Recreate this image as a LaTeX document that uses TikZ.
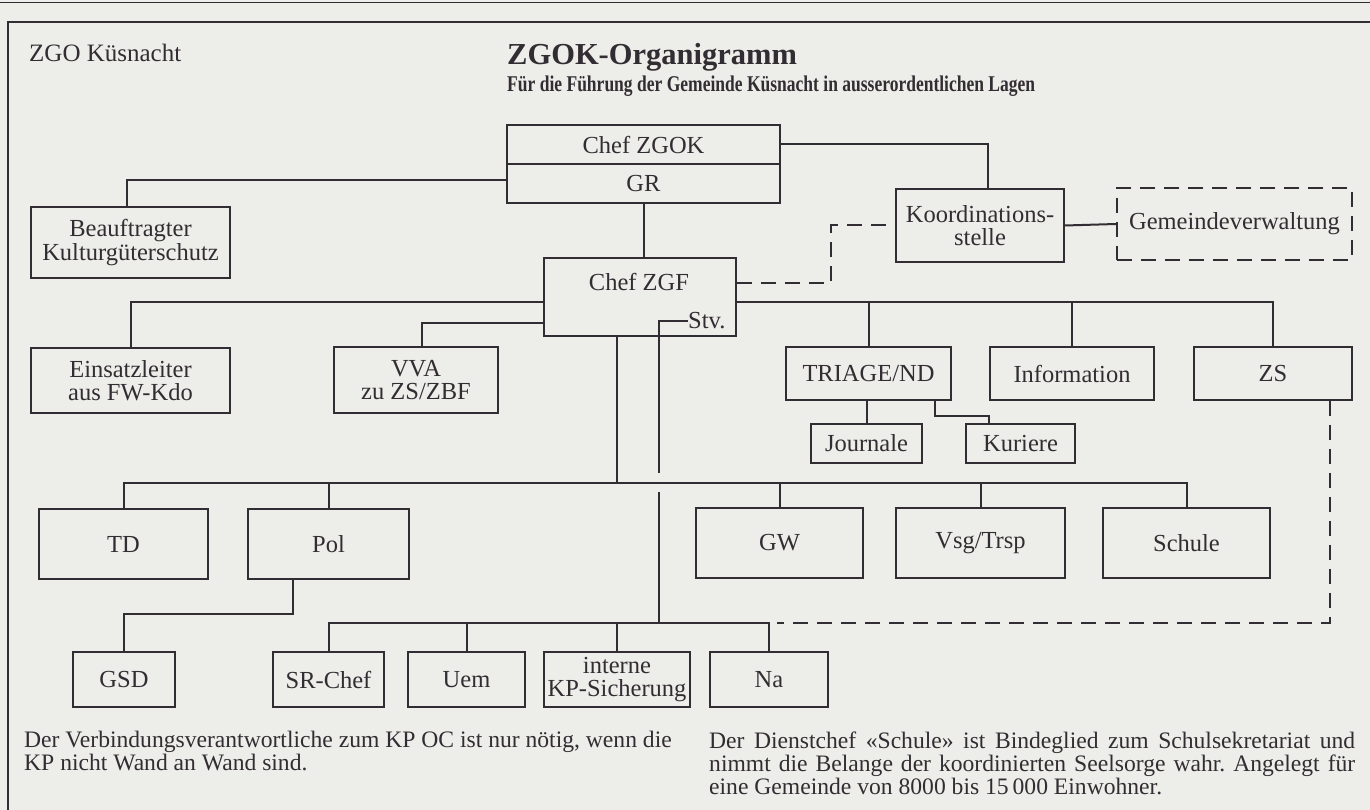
\documentclass[tikz,border=0pt]{standalone}
\usepackage{fontspec}
\setmainfont{Liberation Serif}
\usepackage{graphicx}
\usepackage{tikz}
\definecolor{paper}{RGB}{237,237,233}
\definecolor{ink}{RGB}{50,45,50}
\frenchspacing

\begin{document}
\begin{tikzpicture}[x=1pt, y=-1pt,
    unit/.style={draw=ink, line width=1.9pt, inner sep=0pt, align=center, text=ink, font=\fontsize{24.5}{23.5}\selectfont},
    caption/.style={inner sep=0pt, text=ink},
    link/.style={draw=ink, line width=2pt},
    loose/.style={link, dash pattern=on 15pt off 9pt}]
    \useasboundingbox (0,0) rectangle (1370,810);
    \fill[paper] (0,0) rectangle (1370,810);
    \draw[link, line width=0.8pt] (0,2) -- (1370,2);
    \draw[link] (8,810) -- (8,22) -- (1370,22);

    \node[caption, anchor=base west, font=\fontsize{25}{25}\selectfont] (place) at (29,62) {ZGO Küsnacht};
    \node[caption, anchor=base west, font=\bfseries\fontsize{30.5}{32}\selectfont] (title) at (507,65) {ZGOK-Organigramm};
    \node[caption, anchor=base west, font=\bfseries\fontsize{22.5}{22}\selectfont] (subtitle) at (507,92) {\resizebox{528pt}{\height}{Für die Führung der Gemeinde Küsnacht in ausserordentlichen Lagen}};

    \node[unit, minimum width=273pt, minimum height=39pt] (chefzgok) at (643.5,144.5) {Chef ZGOK};
    \node[unit, minimum width=273pt, minimum height=39pt] (gr) at (643.5,183.5) {GR};
    \node[unit, minimum width=168pt, minimum height=73pt] (koord) at (980,225.5) {Koordinations-\\stelle};
    \node[unit, loose, minimum width=235pt, minimum height=72pt] (gemv) at (1234.5,224) {Gemeindeverwaltung};
    \node[unit, minimum width=199pt, minimum height=71pt] (beauf) at (130.5,242.5) {Beauftragter\\Kulturgüterschutz};
    \node[unit, minimum width=192pt, minimum height=78pt] (zgf) at (640,297) {};
    \node[caption, font=\fontsize{24.5}{24}\selectfont] (zgfname) at (639,282) {Chef ZGF};
    \node[caption, anchor=west, font=\fontsize{24.5}{24}\selectfont] (stv) at (688,321) {Stv.};
    \node[unit, minimum width=199pt, minimum height=65pt] (einsatz) at (130.5,380.5) {Einsatzleiter\\aus FW-Kdo};
    \node[unit, minimum width=164pt, minimum height=66pt] (vva) at (416,380) {VVA\\zu ZS/ZBF};
    \node[unit, minimum width=165pt, minimum height=53pt] (triage) at (868.5,373.5) {TRIAGE/ND};
    \node[unit, minimum width=164pt, minimum height=53pt] (info) at (1072,373.5) {Information};
    \node[unit, minimum width=158pt, minimum height=53pt] (zs) at (1273,373.5) {ZS};
    \node[unit, minimum width=111pt, minimum height=39pt] (journale) at (866.5,443.5) {Journale};
    \node[unit, minimum width=109pt, minimum height=39pt] (kuriere) at (1020.5,443.5) {Kuriere};
    \node[unit, minimum width=169pt, minimum height=70pt] (td) at (123.5,544) {TD};
    \node[unit, minimum width=161pt, minimum height=70pt] (pol) at (328.5,544) {Pol};
    \node[unit, minimum width=167pt, minimum height=70pt] (gw) at (779.5,543) {GW};
    \node[unit, minimum width=169pt, minimum height=70pt] (vsg) at (980.5,543) {Vsg/Trsp};
    \node[unit, minimum width=167pt, minimum height=70pt] (schule) at (1186.5,543) {Schule};
    \node[unit, minimum width=102pt, minimum height=55pt] (gsd) at (124,679.5) {GSD};
    \node[unit, minimum width=111pt, minimum height=55pt] (srchef) at (328.5,679.5) {SR-Chef};
    \node[unit, minimum width=117pt, minimum height=55pt] (uem) at (466.5,679.5) {Uem};
    \node[unit, minimum width=146pt, minimum height=55pt] (interne) at (617,679.5) {interne\\KP-Sicherung};
    \node[unit, minimum width=118pt, minimum height=55pt] (na) at (769,679.5) {Na};

    \coordinate (busA) at (0,483);
    \coordinate (busB) at (0,623);
    \coordinate (zgfright) at ([yshift=-5pt]zgf.east);
    \coordinate (zgfdrop) at ([xshift=-23pt]zgf.south);
    \coordinate (hoptop) at (659,473);
    \coordinate (hopbottom) at (659,492);
    \coordinate (nadrop) at (na.north |- busB);

    \draw[link] (chefzgok.east) -| ([xshift=8pt]koord.north);
    \draw[link] ([yshift=3pt]gr.west) -| ([xshift=-4pt]beauf.north);
    \draw[link] (gr.south) -- (gr.south |- zgf.north);
    \draw[link] (koord.east) -- (gemv.west);
    \draw[loose] ([yshift=14pt]zgf.east) -| ([xshift=-64pt]koord.west) -- (koord.west);
    \draw[link] (zgfright) -| (zs.north);
    \draw[link] (triage.north) -- (triage.north |- zgfright);
    \draw[link] (info.north) -- (info.north |- zgfright);
    \draw[link] ([yshift=-5pt]zgf.west) -| (einsatz.north);
    \draw[link] ([yshift=-26pt]zgf.west) -| ([xshift=6pt]vva.north);
    \draw[link] (journale.north) -- (journale.north |- triage.south);
    \draw[link] ([xshift=66pt]triage.south) -- ++(0,15) -| ([xshift=-32pt]kuriere.north);
    \draw[link] (stv.west) -| (hoptop);
    \draw[link] (hopbottom) -- (hopbottom |- busB);
    \draw[link] (zgfdrop) -- (zgfdrop |- busA);
    \draw[link] (td.north) -- (td.north |- busA) -| (schule.north);
    \foreach \n in {pol, gw, vsg} \draw[link] (\n.north) -- (\n.north |- busA);
    \draw[link] ([xshift=-36pt]pol.south) -- ++(0,34) -| (gsd.north);
    \draw[link] (srchef.north) -- (srchef.north |- busB) -| (na.north);
    \foreach \n in {uem, interne} \draw[link] (\n.north) -- (\n.north |- busB);
    \draw[loose] ([xshift=-23pt]zs.south east) |- ([xshift=8pt]nadrop);

    \node[caption, anchor=north west, align=left, font=\fontsize{23.6}{21}\selectfont] (notekp) at (24,731) {Der Verbindungsverantwortliche zum KP OC ist nur nötig, wenn die\\KP nicht Wand an Wand sind.};
    \node[caption, anchor=north west, text width=646pt, align=justify, font=\fontsize{23.6}{21}\selectfont] (noteschule) at (709,732) {Der Dienstchef «Schule» ist Bindeglied zum Schulsekretariat und\linebreak nimmt die Belange der koordinierten Seelsorge wahr. Angelegt für\linebreak eine Gemeinde von 8000 bis 15\,000 Einwohner.};
\end{tikzpicture}
\end{document}
